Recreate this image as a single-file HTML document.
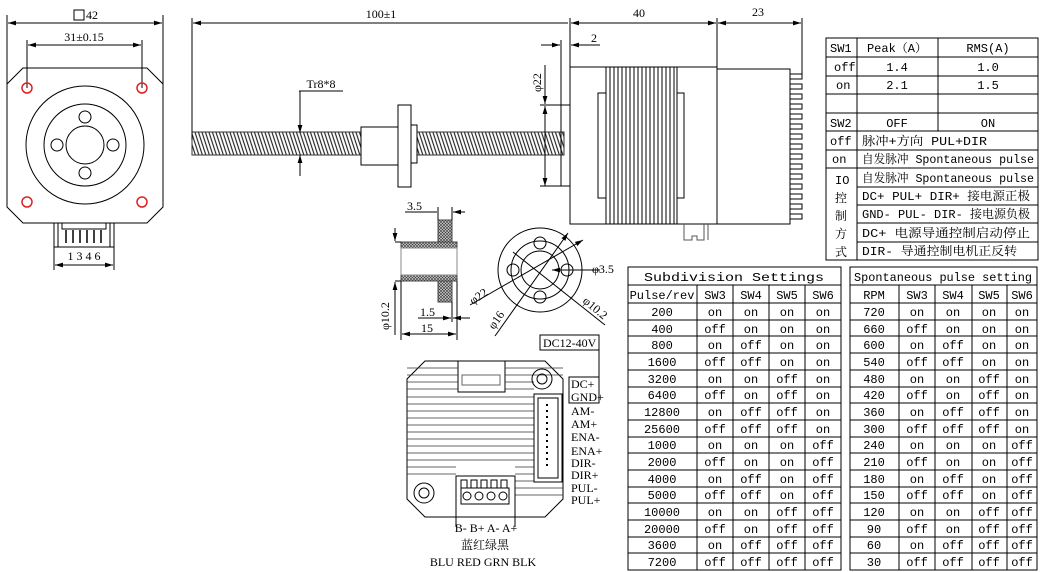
<!DOCTYPE html>
<html><head><meta charset="utf-8"><style>
html,body{margin:0;padding:0;background:#fff;}
svg{display:block;}
text{font-family:"Liberation Mono","Noto Serif CJK SC",monospace;font-size:12px;fill:#000;}
.s text, text.s{font-family:"Liberation Serif","Noto Serif CJK SC",serif;}
.t text{text-anchor:middle;font-size:12px;}
</style></head><body>
<svg width="1045" height="572" viewBox="0 0 1045 572" xmlns="http://www.w3.org/2000/svg">
<defs>
<pattern id="thr" width="7" height="24" patternUnits="userSpaceOnUse" patternTransform="skewX(18)">
<rect width="7" height="24" fill="#fff"/><line x1="1.5" y1="0" x2="1.5" y2="24" stroke="#222" stroke-width="1.2"/><line x1="5" y1="0" x2="5" y2="24" stroke="#222" stroke-width="1.2"/>
</pattern>
<pattern id="hat" width="3" height="3" patternUnits="userSpaceOnUse">
<rect width="3" height="3" fill="#ccc"/><path d="M0 3L3 0M0 0L3 3" stroke="#333" stroke-width="0.6"/>
</pattern>
<marker id="a" viewBox="0 0 10 6" refX="10" refY="3" markerWidth="8" markerHeight="5" orient="auto-start-reverse"><path d="M0 0L10 3L0 6z" fill="#000"/></marker>
</defs>
<g stroke="#000" fill="none" stroke-width="1">
<path d="M23 68H147L163 84V207L147 223H23L7 207V84Z"/>
<line x1="7" y1="15" x2="7" y2="84"/><line x1="163" y1="15" x2="163" y2="84"/>
<line x1="8" y1="23" x2="162" y2="23" marker-start="url(#a)" marker-end="url(#a)"/>
<line x1="27" y1="40" x2="27" y2="88"/><line x1="142" y1="40" x2="142" y2="88"/>
<line x1="28" y1="45" x2="141" y2="45" marker-start="url(#a)" marker-end="url(#a)"/>
<rect x="74" y="10" width="10" height="10"/>
<g stroke="#d22" stroke-width="1.5"><circle cx="27" cy="88" r="5"/><circle cx="142" cy="88" r="5"/><circle cx="27" cy="202" r="5"/><circle cx="142" cy="202" r="5"/></g>
<circle cx="85" cy="145" r="59"/><circle cx="85" cy="145" r="41"/><circle cx="85" cy="145" r="19"/>
<circle cx="85" cy="117" r="6"/><circle cx="85" cy="173" r="6"/><circle cx="57" cy="145" r="6"/><circle cx="113" cy="145" r="6"/>
<rect x="54" y="223" width="60" height="24"/><rect x="58" y="223" width="52" height="24"/><rect x="62" y="223" width="44" height="6"/>
<path d="M66 230V243M73 230V243M80 230V243M87 230V243M94 230V243M101 230V243" stroke-width="1.5"/>
<line x1="54" y1="247" x2="54" y2="270"/><line x1="114" y1="247" x2="114" y2="270"/>
<line x1="55" y1="265" x2="113" y2="265" marker-start="url(#a)" marker-end="url(#a)"/>
<rect x="192" y="132" width="372" height="23" fill="url(#thr)" stroke="#333"/>
<line x1="192" y1="18" x2="192" y2="140"/>
<line x1="193" y1="23" x2="568" y2="23" marker-start="url(#a)"/>
<rect x="361" y="127" width="37" height="38" fill="#fff"/>
<rect x="398" y="105" width="13" height="82" fill="#fff"/>
<rect x="411" y="125" width="6" height="38" fill="#fff"/>
<line x1="299" y1="91" x2="343" y2="91"/>
<line x1="300" y1="91" x2="300" y2="133" marker-end="url(#a)"/><line x1="300" y1="176" x2="300" y2="155" marker-end="url(#a)"/>
<rect x="561" y="105" width="9" height="81"/>
<line x1="540" y1="105" x2="561" y2="105"/><line x1="540" y1="186" x2="561" y2="186"/>
<line x1="545" y1="65" x2="545" y2="104" marker-end="url(#a)"/><line x1="545" y1="186" x2="545" y2="106" marker-end="url(#a)" marker-start="url(#a)"/>
<rect x="570" y="67" width="147" height="157"/>
<rect x="598" y="93" width="8" height="105"/><rect x="677" y="93" width="7" height="105"/>
<path d="M606 67V224M610 67V224M614 67V224M618 67V224M622 67V224M626 67V224M630 67V224M634 67V224M638 67V224M642 67V224M646 67V224M650 67V224M654 67V224M658 67V224M662 67V224M666 67V224M670 67V224M674 67V224M677 67V224"/>
<rect x="717" y="69" width="73" height="155"/>
<path d="M790 74h12v5h-12M790 84h12v5h-12M790 94h12v5h-12M790 104h12v5h-12M790 114h12v5h-12M790 124h12v5h-12M790 134h12v5h-12M790 144h12v5h-12M790 154h12v5h-12M790 164h12v5h-12M790 174h12v5h-12M790 184h12v5h-12M790 194h12v5h-12M790 204h12v5h-12M790 214h12v5h-12"/>
<path d="M684 224V240H692V236H697V240H704V224M708 224V240" stroke="#555"/>
<line x1="570" y1="18" x2="570" y2="67"/><line x1="717" y1="18" x2="717" y2="69"/><line x1="802" y1="18" x2="802" y2="78"/>
<line x1="571" y1="23" x2="716" y2="23" marker-start="url(#a)" marker-end="url(#a)"/>
<line x1="718" y1="23" x2="801" y2="23" marker-start="url(#a)" marker-end="url(#a)"/>
<line x1="561" y1="40" x2="561" y2="105"/>
<line x1="541" y1="45" x2="560" y2="45" marker-end="url(#a)"/><line x1="600" y1="45" x2="571" y2="45" marker-end="url(#a)"/>
<rect x="438" y="220" width="14" height="82" fill="url(#hat)" stroke="#444"/>
<rect x="401" y="242" width="56" height="39" fill="url(#hat)" stroke="#444"/>
<rect x="401" y="248" width="56" height="27" fill="#fff" stroke="#888"/>
<line x1="438" y1="207" x2="438" y2="220"/><line x1="452" y1="207" x2="452" y2="220"/>
<line x1="405" y1="212" x2="437" y2="212"/><line x1="465" y1="212" x2="453" y2="212" marker-end="url(#a)"/>
<line x1="395" y1="242" x2="401" y2="242"/><line x1="395" y1="281" x2="401" y2="281"/>
<line x1="395" y1="228" x2="395" y2="241" marker-end="url(#a)"/><line x1="395" y1="335" x2="395" y2="282" marker-end="url(#a)"/>
<line x1="401" y1="281" x2="401" y2="340"/><line x1="457" y1="281" x2="457" y2="340"/><line x1="452" y1="302" x2="452" y2="322"/>
<line x1="402" y1="334" x2="456" y2="334" marker-start="url(#a)" marker-end="url(#a)"/>
<line x1="418" y1="318" x2="451" y2="318" marker-end="url(#a)"/><line x1="470" y1="318" x2="453" y2="318" marker-end="url(#a)"/>
<circle cx="540" cy="270" r="42"/><circle cx="540" cy="270" r="29"/><circle cx="540" cy="270" r="19"/>
<circle cx="540" cy="243" r="6"/><circle cx="540" cy="297" r="6"/><circle cx="513" cy="270" r="6"/><circle cx="567" cy="270" r="6"/>
<line x1="470" y1="305" x2="583" y2="240" marker-end="url(#a)"/>
<line x1="495" y1="336" x2="568" y2="233" marker-end="url(#a)"/>
<line x1="513" y1="252" x2="605" y2="325"/>
<line x1="600" y1="270" x2="552" y2="270" marker-end="url(#a)"/>
<path d="M425 361H545L563 379V499L545 517H425L407 499V379Z"/>
<rect x="458" y="361" width="47" height="31"/>
<rect x="462" y="375" width="38" height="10" stroke="#666"/>
<path d="M407 397H534M407 404H534M407 411H534M407 418H534M407 425H534M407 432H534M407 439H534M407 446H534M407 453H534M407 460H534M407 467H456M407 474H456M515 467H563M515 474H563M515 481H563M515 488H563M515 495H563M505 368H563M505 375H563M505 382H534M505 389H534M407 368H458M407 375H458M407 382H458M407 389H458" stroke="#333" stroke-width="0.8"/>
<rect x="534" y="394" width="28" height="88" fill="#fff"/><rect x="538" y="398" width="20" height="80"/>
<path d="M547 404v2M547 410v2M547 416v2M547 422v2M547 428v2M547 434v2M547 440v2M547 446v2M547 452v2M547 458v2M547 464v2" stroke-width="2"/>
<rect x="456" y="476" width="59" height="41" fill="#fff"/>
<path d="M461 488V480H467V488M471 488V480H477V488M481 488V480H487V488M491 488V480H497V488M501 488V480H507V488M461 488H509V504H461Z"/>
<circle cx="467" cy="496" r="4"/><circle cx="479" cy="496" r="4"/><circle cx="491" cy="496" r="4"/><circle cx="503" cy="496" r="4"/>
<circle cx="542" cy="379" r="10"/><circle cx="542" cy="379" r="5"/><circle cx="424" cy="493" r="10"/><circle cx="424" cy="493" r="5"/>
<line x1="456" y1="517" x2="456" y2="527"/><line x1="515" y1="517" x2="515" y2="527"/>
<rect x="540" y="335" width="59" height="15"/><line x1="599" y1="342" x2="599" y2="377"/>
<rect x="569" y="377" width="30" height="26"/>
<rect x="826" y="38" width="212" height="222"/>
<path d="M826 57H1038M826 76H1038M826 94H1038M826 113H1038M826 131H1038M826 150H1038M826 168H1038M857 187H1038M857 205H1038M857 223H1038M857 242H1038M857 38V260M938 38V131"/>
<rect x="628" y="267" width="213" height="303"/>
<path d="M628 285H841M697 285V570M733 285V570M769 285V570M805 285V570"/>
<rect x="850" y="267" width="187" height="303"/>
<path d="M850 285H1037M899 285V570M935 285V570M972 285V570M1007 285V570"/>
<path d="M628 303H841M628 320H841M628 336H841M628 353H841M628 370H841M628 387H841M628 403H841M628 420H841M628 437H841M628 453H841M628 470H841M628 487H841M628 503H841M628 520H841M628 537H841M628 553H841"/>
<path d="M850 303H1037M850 320H1037M850 336H1037M850 353H1037M850 370H1037M850 387H1037M850 403H1037M850 420H1037M850 437H1037M850 453H1037M850 470H1037M850 487H1037M850 503H1037M850 520H1037M850 537H1037M850 553H1037"/>
</g>
<g class="s">
<text x="86" y="19" font-size="13">42</text>
<text x="84" y="41" text-anchor="middle" font-size="13">31±0.15</text>
<text x="84" y="260" text-anchor="middle" font-size="13">1 3 4 6</text>
<text x="381" y="18" text-anchor="middle" font-size="13">100±1</text>
<text x="321" y="88" text-anchor="middle" font-size="12">Tr8*8</text>
<text x="639" y="17" text-anchor="middle" font-size="13">40</text>
<text x="758" y="16" text-anchor="middle" font-size="13">23</text>
<text x="591" y="42" font-size="12">2</text>
<text transform="translate(541,92) rotate(-90)" font-size="12">φ22</text>
<text x="407" y="210" font-size="12">3.5</text>
<text transform="translate(389,330) rotate(-90)" font-size="12">φ10.2</text>
<text x="420" y="316" font-size="12">1.5</text>
<text x="421" y="332" font-size="12">15</text>
<text x="592" y="273" font-size="12">φ3.5</text>
<text transform="translate(473,305) rotate(-35)" font-size="12">φ22</text>
<text transform="translate(494,330) rotate(-55)" font-size="12">φ16</text>
<text transform="translate(582,302) rotate(40)" font-size="12">φ10.2</text>
<text x="543" y="347" font-size="12">DC12-40V</text>
<text x="571" y="388" font-size="12">DC+</text><text x="571" y="401" font-size="12">GND+</text>
<text x="571" y="415" font-size="12">AM-</text><text x="571" y="428" font-size="12">AM+</text><text x="571" y="441" font-size="12">ENA-</text><text x="571" y="455" font-size="12">ENA+</text>
<text x="571" y="467" font-size="12">DIR-</text><text x="571" y="479" font-size="12">DIR+</text><text x="571" y="492" font-size="12">PUL-</text><text x="571" y="504" font-size="12">PUL+</text>
<text x="486" y="532" text-anchor="middle" font-size="12">B- B+ A- A+</text>
<text x="485" y="549" text-anchor="middle" font-size="12">蓝红绿黑</text>
<text x="483" y="566" text-anchor="middle" font-size="12">BLU RED GRN BLK</text>
</g>
<g>
<text x="830" y="52" font-size="11">SW1</text><text x="897" y="52" text-anchor="middle" font-size="11">Peak（A）</text><text x="988" y="52" text-anchor="middle" font-size="11">RMS(A)</text>
<text x="834" y="71" font-size="11">off</text><text x="897" y="71" text-anchor="middle" font-size="11">1.4</text><text x="988" y="71" text-anchor="middle" font-size="11">1.0</text>
<text x="836" y="89" font-size="11">on</text><text x="897" y="89" text-anchor="middle" font-size="11">2.1</text><text x="988" y="89" text-anchor="middle" font-size="11">1.5</text>
<text x="830" y="127" font-size="11">SW2</text><text x="897" y="127" text-anchor="middle" font-size="11">OFF</text><text x="988" y="127" text-anchor="middle" font-size="11">ON</text>
<text x="830" y="145" font-size="11">off</text><text x="862" y="145" font-size="11" textLength="125" lengthAdjust="spacingAndGlyphs">脉冲+方向 PUL+DIR</text>
<text x="832" y="163" font-size="11">on</text><text x="862" y="163" font-size="11" textLength="172" lengthAdjust="spacingAndGlyphs">自发脉冲 Spontaneous pulse</text>
<text x="862" y="182" font-size="11" textLength="172" lengthAdjust="spacingAndGlyphs">自发脉冲 Spontaneous pulse</text>
<text x="862" y="200" font-size="11" textLength="168" lengthAdjust="spacingAndGlyphs">DC+  PUL+ DIR+ 接电源正极</text>
<text x="862" y="218" font-size="11" textLength="168" lengthAdjust="spacingAndGlyphs">GND- PUL- DIR- 接电源负极</text>
<text x="862" y="237" font-size="11" textLength="168" lengthAdjust="spacingAndGlyphs">DC+  电源导通控制启动停止</text>
<text x="862" y="255" font-size="11" textLength="155" lengthAdjust="spacingAndGlyphs">DIR- 导通控制电机正反转</text>
<text x="835" y="184" font-size="11">IO</text><text x="835" y="202" font-size="11">控</text><text x="835" y="220" font-size="11">制</text><text x="835" y="238" font-size="11">方</text><text x="835" y="256" font-size="11">式</text>
</g>
<g class="t">
<text x="734" y="281" textLength="180" lengthAdjust="spacingAndGlyphs">Subdivision Settings</text><text x="943" y="281" textLength="178" lengthAdjust="spacingAndGlyphs">Spontaneous pulse setting</text>
<text x="662" y="299">Pulse/rev</text><text x="715" y="299">SW3</text><text x="751" y="299">SW4</text><text x="787" y="299">SW5</text><text x="823" y="299">SW6</text>
<text x="874" y="299">RPM</text><text x="917" y="299">SW3</text><text x="953" y="299">SW4</text><text x="989" y="299">SW5</text><text x="1022" y="299">SW6</text>
</g>
<g class="t">
<text x="662" y="316">200</text><text x="662" y="333">400</text><text x="662" y="349">800</text><text x="662" y="366">1600</text><text x="662" y="383">3200</text><text x="662" y="399">6400</text><text x="662" y="416">12800</text><text x="662" y="433">25600</text><text x="662" y="449">1000</text><text x="662" y="466">2000</text><text x="662" y="483">4000</text><text x="662" y="499">5000</text><text x="662" y="516">10000</text><text x="662" y="533">20000</text><text x="662" y="549">3600</text><text x="662" y="566">7200</text>
<text x="874" y="316">720</text><text x="874" y="333">660</text><text x="874" y="349">600</text><text x="874" y="366">540</text><text x="874" y="383">480</text><text x="874" y="399">420</text><text x="874" y="416">360</text><text x="874" y="433">300</text><text x="874" y="449">240</text><text x="874" y="466">210</text><text x="874" y="483">180</text><text x="874" y="499">150</text><text x="874" y="516">120</text><text x="874" y="533">90</text><text x="874" y="549">60</text><text x="874" y="566">30</text>
</g>
<g class="t">
<g><text x="715" y="316">on</text><text x="715" y="333">off</text><text x="715" y="349">on</text><text x="715" y="366">off</text><text x="715" y="383">on</text><text x="715" y="399">off</text><text x="715" y="416">on</text><text x="715" y="433">off</text><text x="715" y="449">on</text><text x="715" y="466">off</text><text x="715" y="483">on</text><text x="715" y="499">off</text><text x="715" y="516">on</text><text x="715" y="533">off</text><text x="715" y="549">on</text><text x="715" y="566">off</text></g>
<g><text x="751" y="316">on</text><text x="751" y="333">on</text><text x="751" y="349">off</text><text x="751" y="366">off</text><text x="751" y="383">on</text><text x="751" y="399">on</text><text x="751" y="416">off</text><text x="751" y="433">off</text><text x="751" y="449">on</text><text x="751" y="466">on</text><text x="751" y="483">off</text><text x="751" y="499">off</text><text x="751" y="516">on</text><text x="751" y="533">on</text><text x="751" y="549">off</text><text x="751" y="566">off</text></g>
<g><text x="787" y="316">on</text><text x="787" y="333">on</text><text x="787" y="349">on</text><text x="787" y="366">on</text><text x="787" y="383">off</text><text x="787" y="399">off</text><text x="787" y="416">off</text><text x="787" y="433">off</text><text x="787" y="449">on</text><text x="787" y="466">on</text><text x="787" y="483">on</text><text x="787" y="499">on</text><text x="787" y="516">off</text><text x="787" y="533">off</text><text x="787" y="549">off</text><text x="787" y="566">off</text></g>
<g><text x="823" y="316">on</text><text x="823" y="333">on</text><text x="823" y="349">on</text><text x="823" y="366">on</text><text x="823" y="383">on</text><text x="823" y="399">on</text><text x="823" y="416">on</text><text x="823" y="433">on</text><text x="823" y="449">off</text><text x="823" y="466">off</text><text x="823" y="483">off</text><text x="823" y="499">off</text><text x="823" y="516">off</text><text x="823" y="533">off</text><text x="823" y="549">off</text><text x="823" y="566">off</text></g>
<g transform="translate(202,0)"><text x="715" y="316">on</text><text x="715" y="333">off</text><text x="715" y="349">on</text><text x="715" y="366">off</text><text x="715" y="383">on</text><text x="715" y="399">off</text><text x="715" y="416">on</text><text x="715" y="433">off</text><text x="715" y="449">on</text><text x="715" y="466">off</text><text x="715" y="483">on</text><text x="715" y="499">off</text><text x="715" y="516">on</text><text x="715" y="533">off</text><text x="715" y="549">on</text><text x="715" y="566">off</text></g>
<g transform="translate(202,0)"><text x="751" y="316">on</text><text x="751" y="333">on</text><text x="751" y="349">off</text><text x="751" y="366">off</text><text x="751" y="383">on</text><text x="751" y="399">on</text><text x="751" y="416">off</text><text x="751" y="433">off</text><text x="751" y="449">on</text><text x="751" y="466">on</text><text x="751" y="483">off</text><text x="751" y="499">off</text><text x="751" y="516">on</text><text x="751" y="533">on</text><text x="751" y="549">off</text><text x="751" y="566">off</text></g>
<g transform="translate(202,0)"><text x="787" y="316">on</text><text x="787" y="333">on</text><text x="787" y="349">on</text><text x="787" y="366">on</text><text x="787" y="383">off</text><text x="787" y="399">off</text><text x="787" y="416">off</text><text x="787" y="433">off</text><text x="787" y="449">on</text><text x="787" y="466">on</text><text x="787" y="483">on</text><text x="787" y="499">on</text><text x="787" y="516">off</text><text x="787" y="533">off</text><text x="787" y="549">off</text><text x="787" y="566">off</text></g>
<g transform="translate(199,0)"><text x="823" y="316">on</text><text x="823" y="333">on</text><text x="823" y="349">on</text><text x="823" y="366">on</text><text x="823" y="383">on</text><text x="823" y="399">on</text><text x="823" y="416">on</text><text x="823" y="433">on</text><text x="823" y="449">off</text><text x="823" y="466">off</text><text x="823" y="483">off</text><text x="823" y="499">off</text><text x="823" y="516">off</text><text x="823" y="533">off</text><text x="823" y="549">off</text><text x="823" y="566">off</text></g>
</g>
</svg>
</body></html>
